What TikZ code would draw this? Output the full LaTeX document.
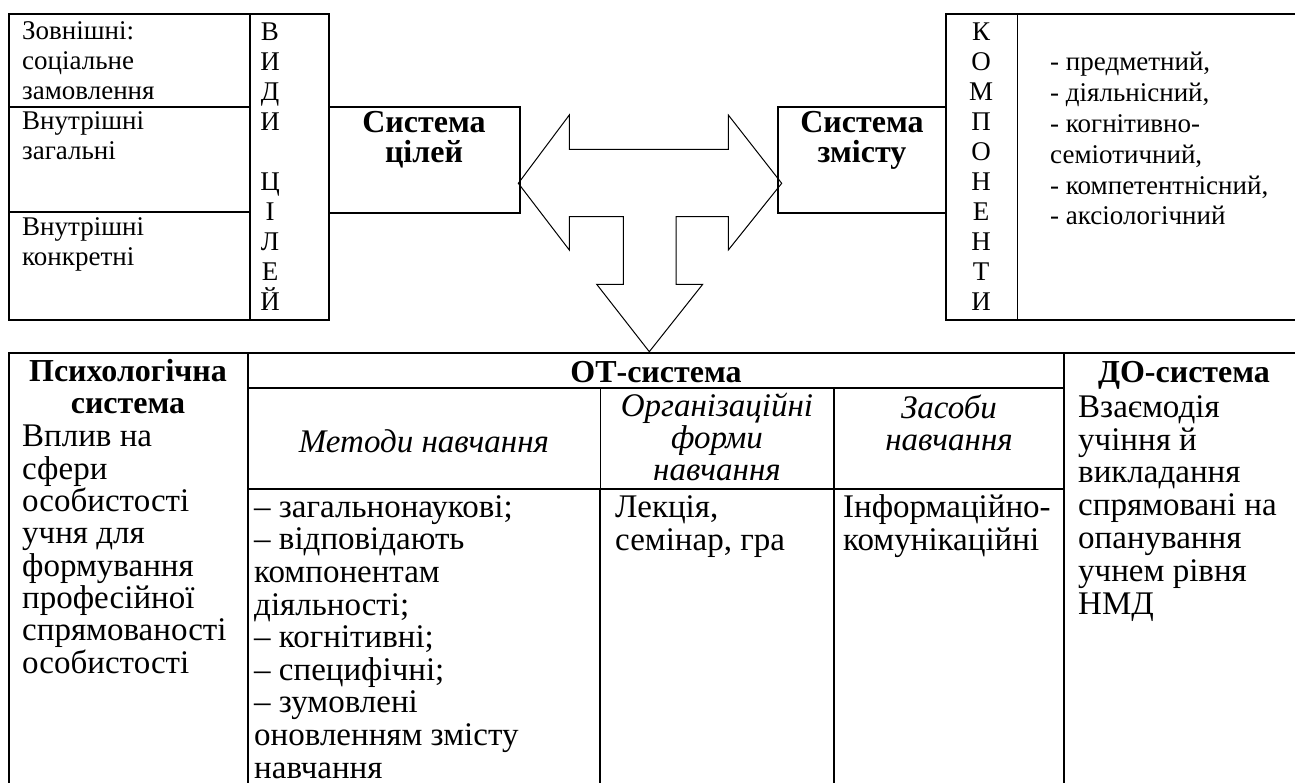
\documentclass[tikz,border=0pt]{standalone}
\usepackage{fontspec}
\setmainfont{Liberation Serif}
\usetikzlibrary{positioning}

\tikzset{
  cell/.style={line width=1.4pt},
  thincell/.style={line width=0.9pt},
  arrowline/.style={line width=1pt, line join=miter},
  % multi-line nodes sit on the baseline of their last line
  txt/.style={inner sep=0pt, anchor=base west, align=left, font=\fontsize{27}{30}\selectfont},
  letters/.style={inner sep=0pt, anchor=base, align=center, font=\fontsize{27}{30}\selectfont},
  headtxt/.style={inner sep=0pt, anchor=base, align=center, font=\fontsize{32}{30}\selectfont\bfseries},
  tabtxt/.style={inner sep=0pt, anchor=base west, align=left, font=\fontsize{33}{32.6}\selectfont},
  tabhead/.style={inner sep=0pt, anchor=base, align=center, font=\fontsize{32}{32}\selectfont\bfseries},
  tabital/.style={inner sep=0pt, anchor=base, align=center, font=\fontsize{33}{32}\selectfont\itshape}
}

\begin{document}
\begin{tikzpicture}[x=1pt, y=-1pt]
\useasboundingbox (0,0) rectangle (1295,783);

% kinds of goals (top left)
\draw[cell] (9,14) rectangle (329,320);
\draw[cell] (250,14) -- (250,320);
\draw[cell] (9,107) -- (250,107);
\draw[cell] (9,212) -- (250,212);
\node[txt] (zovn) at (22,100) {Зовнішні:\\соціальне\\замовлення};
\node[txt] (vnzag) at (22,160) {Внутрішні\\загальні};
\node[txt] (vnkon) at (22,266) {Внутрішні\\конкретні};
\node[letters] (vydy) at (270,311) {В\\И\\Д\\И\\\mbox{}\\Ц\\І\\Л\\Е\\Й};

% system of goals
\draw[cell] (329,107) -- (520,107) -- (520,213) -- (329,213);
\node[headtxt] (cili) at (424,163) {Система\\цілей};

% system of content
\draw[cell] (946,107) -- (778,107) -- (778,213) -- (946,213);
\node[headtxt] (zmist) at (862,163) {Система\\змісту};

% components (top right)
\draw[cell] (1295,14) -- (946,14) -- (946,320) -- (1295,320);
\draw[thincell] (1017,14) -- (1017,320);
\node[letters] (komp) at (981,311) {К\\О\\М\\П\\О\\Н\\Е\\Н\\Т\\И};
\node[txt, font=\fontsize{27}{30.8}\selectfont] (komplist) at (1050,225)
  {- предметний,\\- діяльнісний,\\- когнітивно-\\семіотичний,\\- компетентнісний,\\- аксіологічний};

% three-way arrow
\draw[arrowline] (518.3,183.3) -- (569.3,115) -- (569.3,149.3) -- (728.3,149.3)
  -- (728.3,115) -- (781.7,183.3) -- (728.3,250) -- (728.3,216.7) -- (676,216.7)
  -- (676,284.3) -- (702.7,284.3) -- (649.3,351.7) -- (596.7,284.3) -- (623.3,284.3)
  -- (623.3,216.7) -- (569.3,216.7) -- (569.3,250) -- cycle;

% table
\draw[cell] (1295,353) -- (9,353) -- (9,783);
\draw[cell] (248,353) -- (248,783);
\draw[cell] (248,388) -- (1064,388);
\draw[cell] (248,489) -- (1064,489);
\draw[cell] (1064,353) -- (1064,783);
\draw[thincell] (600,388) -- (600,489);
\draw[cell] (600,489) -- (600,783);
\draw[cell] (834,388) -- (834,783);

% table texts
\node[tabhead] (psyhead) at (128,413) {Психологічна\\система};
\node[tabtxt, font=\fontsize{33}{32.3}\selectfont] (psybody) at (22,673)
  {Вплив на\\сфери\\особистості\\учня для\\формування\\професійної\\спрямованості\\особистості};
\node[tabhead] (othead) at (656,382) {ОТ-система};
\node[tabhead] (dohead) at (1184,382) {ДО-система};
\node[tabital] (methead) at (424,452) {Методи навчання};
\node[tabital] (orghead) at (717,480) {Організаційні\\форми\\навчання};
\node[tabital] (zashead) at (949,450) {Засоби\\навчання};
\node[tabtxt] (metbody) at (254,778)
  {– загальнонаукові;\\– відповідають\\компонентам\\діяльності;\\– когнітивні;\\– специфічні;\\– зумовлені\\оновленням змісту\\навчання};
\node[tabtxt] (orgbody) at (615,550) {Лекція,\\семінар, гра};
\node[tabtxt] (zasbody) at (843,550) {Інформаційно-\\комунікаційні};
\node[tabtxt, font=\fontsize{33}{32.8}\selectfont] (dobody) at (1078,614)
  {Взаємодія\\учіння й\\викладання\\спрямовані на\\опанування\\учнем рівня\\НМД};

\end{tikzpicture}
\end{document}
